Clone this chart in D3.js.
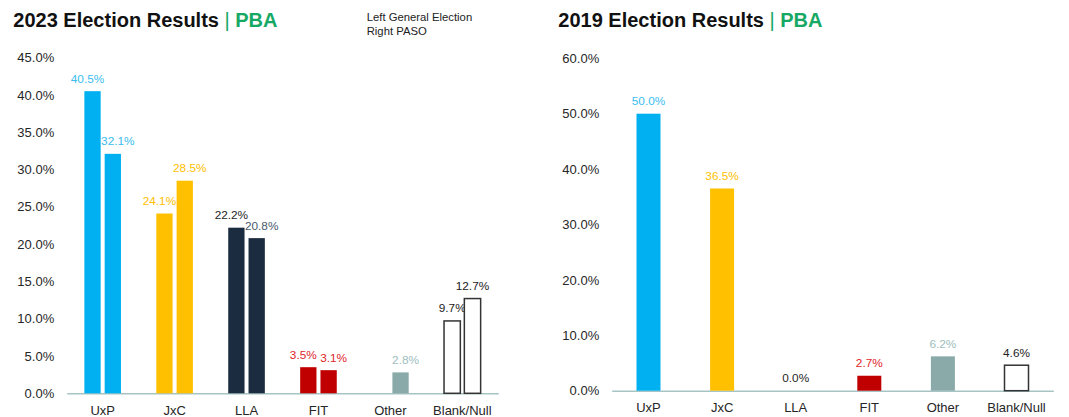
<!DOCTYPE html>
<html lang="en">
<head>
    <meta charset="UTF-8">
    <title>PBA Election Results</title>
    <script src="https://d3js.org/d3.v7.min.js"></script>
    <style>
        body {
            margin: 0;
            padding: 0;
            background: #ffffff;
        }
        svg {
            display: block;
            font-family: "Liberation Sans", Arial, Helvetica, sans-serif;
        }
        .title {
            font-size: 20px;
            font-weight: bold;
            fill: #111111;
        }
        .legend-text {
            font-size: 11.3px;
            fill: #222222;
        }
        .tick text {
            font-size: 13px;
            fill: #262626;
        }
        .value-label {
            font-size: 11.8px;
            text-anchor: middle;
        }
    </style>
</head>
<body>
    <svg width="1069" height="417"></svg>

    <script>
        // data
        const categories = ["UxP", "JxC", "LLA", "FIT", "Other", "Blank/Null"];
        const general2023 = [40.5, 24.1, 22.2, 3.5, null, 9.7];
        const paso2023 = [32.1, 28.5, 20.8, 3.1, 2.8, 12.7];
        const general2019 = [50.0, 36.5, 0.0, 2.7, 6.2, 4.6];
        const ticks2023 = [0, 5, 10, 15, 20, 25, 30, 35, 40, 45];
        const ticks2019 = [0, 10, 20, 30, 40, 50, 60];

        const barColors = ["#00b0f0", "#ffc000", "#1b2b40", "#c00000", "#89aaa9", "#ffffff"];
        const labelColors = ["#3bbdf0", "#ffc000", "#1f1f1f", "#e0262b", "#9dbebe", "#222222"];
        const pasoLabelColors = ["#3bbdf0", "#ffc000", "#4a5a6e", "#e0262b", "#9dbebe", "#222222"];

        const svg = d3.select("svg");
        const fmt = d => d3.format(".1f")(d) + "%";

        function drawTitle(x, year) {
            const t = svg.append("text")
                .attr("class", "title")
                .attr("x", x)
                .attr("y", 26.5);
            t.append("tspan").text(year + " Election Results ");
            t.append("tspan").attr("fill", "#17a865").attr("font-weight", "normal").text("|");
            t.append("tspan").attr("fill", "#17a865").text(" PBA");
        }

        function drawAxes(x, y, ticks, baseY) {
            svg.append("g")
                .attr("transform", `translate(${x.range()[0]},0)`)
                .call(d3.axisLeft(y).tickValues(ticks).tickSize(0).tickPadding(12.5).tickFormat(fmt))
                .call(g => g.select(".domain").remove());

            svg.append("g")
                .attr("transform", `translate(0,${baseY})`)
                .call(d3.axisBottom(x).tickSize(0).tickSizeOuter(0).tickPadding(12.5))
                .call(g => g.select(".domain").attr("stroke", "#a7c4c4").attr("stroke-width", 1.6));
        }

        function drawBars(x, y, values, offset, width, colors, nudge) {
            const rows = categories.map((c, i) => ({ cat: c, v: values[i], i: i }))
                .filter(d => d.v !== null);

            svg.append("g").selectAll("rect")
                .data(rows)
                .join("rect")
                .attr("x", d => x(d.cat) + x.bandwidth() / 2 + offset)
                .attr("y", d => y(d.v))
                .attr("width", width)
                .attr("height", d => y(0) - y(d.v))
                .attr("fill", d => barColors[d.i])
                .attr("stroke", d => d.cat === "Blank/Null" ? "#333333" : "none")
                .attr("stroke-width", 1.5);

            // paired labels are pushed apart a little, like the original
            svg.append("g").selectAll("text")
                .data(rows)
                .join("text")
                .attr("class", "value-label")
                .attr("x", d => x(d.cat) + x.bandwidth() / 2 + offset + width / 2 + (d.cat === "Blank/Null" ? 0 : nudge))
                .attr("y", d => y(d.v) - 8.5)
                .attr("fill", d => colors[d.i])
                .text(d => fmt(d.v));
        }

        // 2023 chart: general election (left) vs PASO (right)
        const x1 = d3.scaleBand().domain(categories).range([66.7, 498.3]);
        const y1 = d3.scaleLinear().domain([0, 45]).range([393.3, 57.6]);
        const pair = d3.scaleBand().domain(["general", "paso"]).range([-18.3, 18.3]).paddingInner(0.197);

        drawTitle(13.3, "2023");
        drawAxes(x1, y1, ticks2023, 393.3);
        drawBars(x1, y1, general2023, pair("general"), pair.bandwidth(), labelColors, -5);
        drawBars(x1, y1, paso2023, pair("paso"), pair.bandwidth(), pasoLabelColors, 5);

        const legend = svg.append("text").attr("class", "legend-text").attr("x", 366.7).attr("y", 20.7);
        legend.append("tspan").text("Left General Election");
        legend.append("tspan").attr("x", 366.7).attr("dy", 14.3).text("Right PASO");

        // 2019 chart
        const x2 = d3.scaleBand().domain(categories).range([611.7, 1053.3]);
        const y2 = d3.scaleLinear().domain([0, 60]).range([390.7, 58.3]);

        drawTitle(558.3, "2019");
        drawAxes(x2, y2, ticks2019, 390.7);
        drawBars(x2, y2, general2019, -12, 24, labelColors, 0);
    </script>
</body>
</html>
